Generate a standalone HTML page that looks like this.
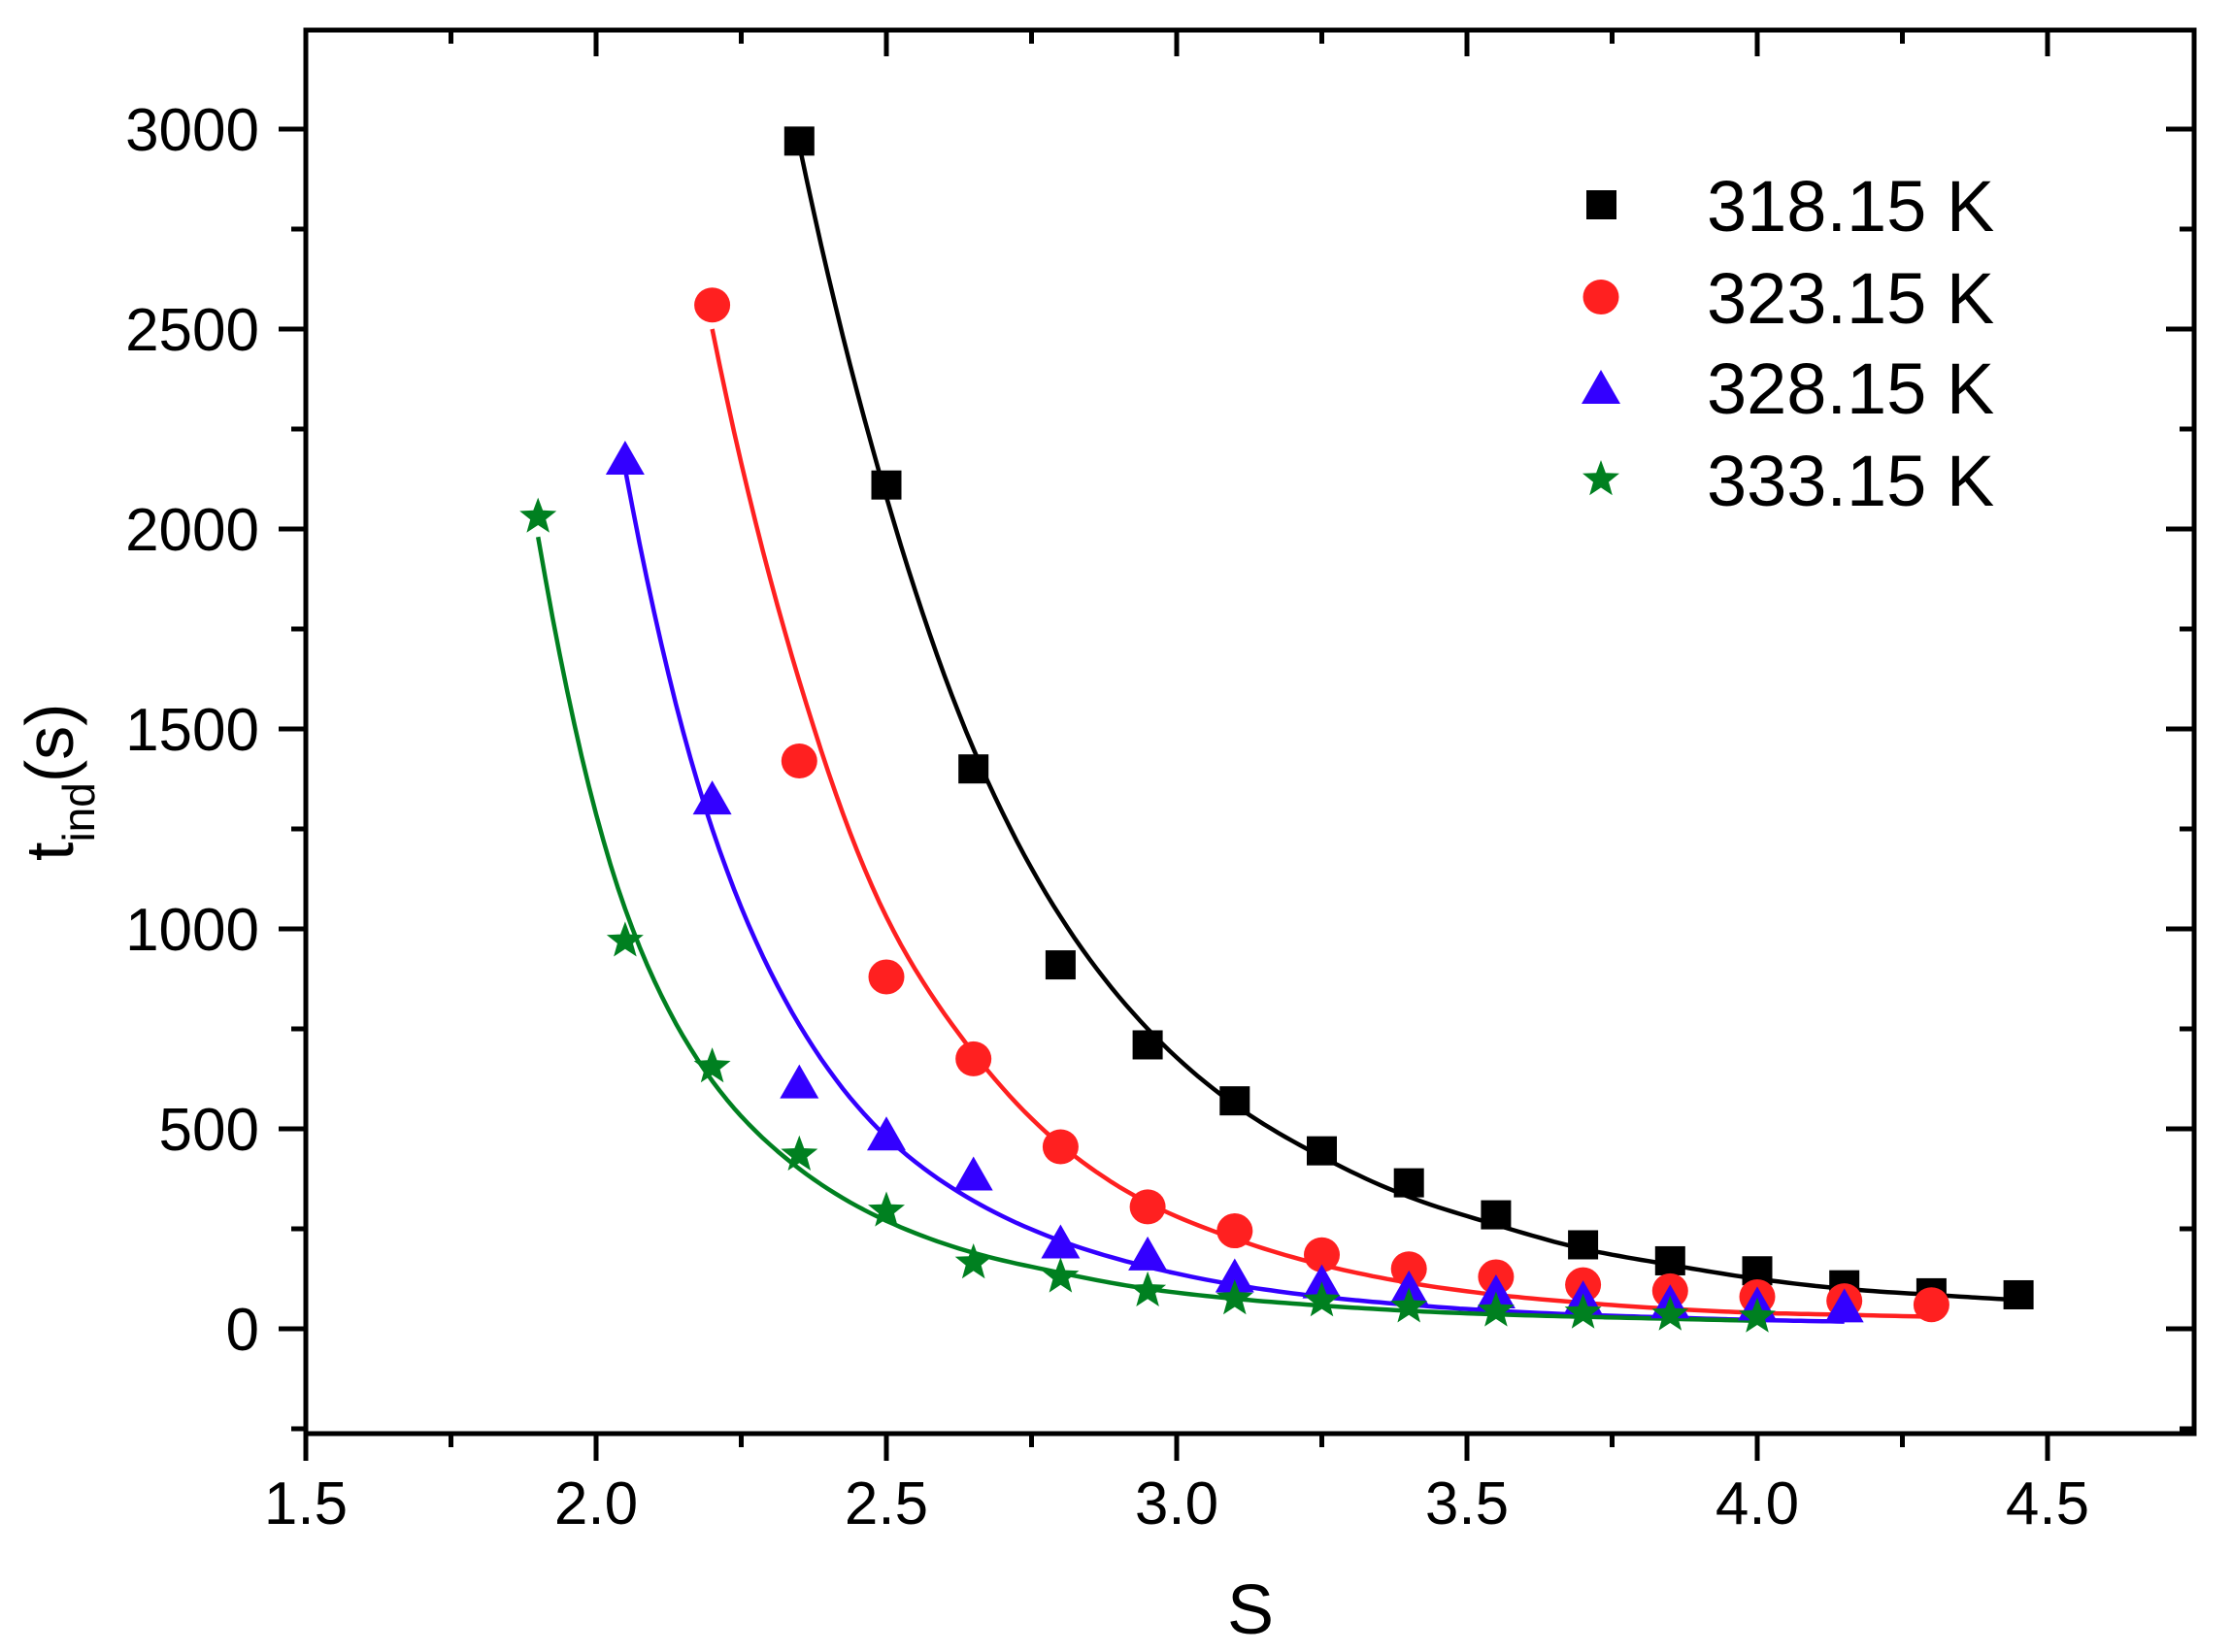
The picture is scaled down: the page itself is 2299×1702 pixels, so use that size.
<!DOCTYPE html>
<html><head><meta charset="utf-8"><style>
html,body{margin:0;padding:0;background:#fff;}
svg{display:block;}
text{font-family:"Liberation Sans",Arial,sans-serif;fill:#000;}
</style></head><body>
<svg id="s" width="2299" height="1702" viewBox="0 0 2299 1702" xmlns="http://www.w3.org/2000/svg">
<rect width="2299" height="1702" fill="#fff"/>
<g id="curves"></g>
<g id="marks"></g>
<g id="axes"></g>
<text x="1288" y="1683" font-size="72" text-anchor="middle">S</text>
<text transform="translate(75,887) rotate(-90)" font-size="70">t<tspan font-size="46" dy="22">ind</tspan><tspan dy="-22">(s)</tspan></text>
<g id="legend" font-size="74">
<rect x="1634" y="196" width="31" height="30" fill="#000"/>
<text x="1758" y="238">318.15 K</text>
<ellipse cx="1649" cy="306" rx="18.5" ry="18" fill="#ff2020"/>
<text x="1758" y="333">323.15 K</text>
<polygon points="1629,416 1669,416 1649,381" fill="#3300ff"/>
<text x="1758" y="426">328.15 K</text>
<text x="1758" y="521">333.15 K</text>
</g>
</svg>
<script>
var NS="http://www.w3.org/2000/svg";
function px(x){return 315+(x-1.5)*598;}
function py(v){return 1369-v*0.412;}
function el(tag,attrs,parent){var e=document.createElementNS(NS,tag);for(var k in attrs)e.setAttribute(k,attrs[k]);parent.appendChild(e);return e;}
var axes=document.getElementById('axes'),curves=document.getElementById('curves'),marks=document.getElementById('marks'),legend=document.getElementById('legend');
var L=315,R=2260,T=31,B=1477;
el('rect',{x:L,y:T,width:R-L,height:B-T,fill:'none',stroke:'#000','stroke-width':5},axes);
for(var i=0;i<=12;i++){var xv=1.5+i*0.25;var X=px(xv);if(X>R-2)break;var maj=(i%2==0);
 el('line',{x1:X,y1:B,x2:X,y2:B+(maj?28:14),stroke:'#000','stroke-width':5},axes);
 el('line',{x1:X,y1:T,x2:X,y2:T+(maj?27:14),stroke:'#000','stroke-width':5},axes);
 if(maj){var t=el('text',{x:X,y:1570,'font-size':62,'text-anchor':'middle'},axes);t.textContent=xv.toFixed(1);}
}
for(var v=-250;v<=3250;v+=250){var Y=py(v);if(Y>B-2||Y<T+2)continue;var maj=(v%500==0);
 el('line',{x1:L,y1:Y,x2:L-(maj?28:15),y2:Y,stroke:'#000','stroke-width':5},axes);
 el('line',{x1:R,y1:Y,x2:R-(maj?29:15),y2:Y,stroke:'#000','stroke-width':5},axes);
 if(maj){var t=el('text',{x:267,y:Y+22,'font-size':62,'text-anchor':'end'},axes);t.textContent=v;}
}
var series=[
 {c:'#000',m:'sq',d:[[2.35,2970],[2.5,2110],[2.65,1400],[2.8,910],[2.95,710],[3.1,570],[3.25,445],[3.4,365],[3.55,285],[3.7,210],[3.85,170],[4.0,145],[4.15,110],[4.3,90],[4.45,85]],
  f:[[2.35,2960],[2.5,2080],[2.65,1450],[2.8,1030],[2.95,750],[3.1,560],[3.25,430],[3.4,330],[3.55,260],[3.7,200],[3.85,160],[4.0,125],[4.15,100],[4.3,85],[4.45,72]]},
 {c:'#ff2020',m:'ci',d:[[2.2,2560],[2.35,1420],[2.5,880],[2.65,675],[2.8,455],[2.95,305],[3.1,245],[3.25,185],[3.4,150],[3.55,130],[3.7,110],[3.85,95],[4.0,80],[4.15,70],[4.3,60]],
  f:[[2.2,2500],[2.35,1620],[2.5,1030],[2.65,690],[2.8,460],[2.95,315],[3.1,225],[3.25,160],[3.4,115],[3.55,85],[3.7,65],[3.85,50],[4.0,40],[4.15,35],[4.3,30]]},
 {c:'#3300ff',m:'tr',d:[[2.05,2170],[2.2,1320],[2.35,610],[2.5,480],[2.65,380],[2.8,210],[2.95,180],[3.1,125],[3.25,110],[3.4,95],[3.55,85],[3.7,70],[3.85,60],[4.0,55],[4.15,50]],
  f:[[2.05,2150],[2.2,1250],[2.35,760],[2.5,480],[2.65,320],[2.8,220],[2.95,155],[3.1,110],[3.25,80],[3.4,60],[3.55,45],[3.7,35],[3.85,28],[4.0,22],[4.15,18]]},
 {c:'#008020',m:'st',d:[[1.9,2030],[2.05,970],[2.2,655],[2.35,435],[2.5,295],[2.65,165],[2.8,130],[2.95,95],[3.1,75],[3.25,70],[3.4,55],[3.55,45],[3.7,40],[3.85,35],[4.0,30]],
  f:[[1.9,1980],[2.05,1050],[2.2,620],[2.35,400],[2.5,270],[2.65,190],[2.8,140],[2.95,100],[3.1,75],[3.25,58],[3.4,45],[3.55,36],[3.7,30],[3.85,25],[4.0,20]]}
];
function star(cx,cy,r){var p=[];for(var k=0;k<10;k++){var a=-Math.PI/2+k*Math.PI/5;var rr=(k%2==0)?r:r*0.42;p.push((cx+rr*Math.cos(a)).toFixed(1)+','+(cy+rr*Math.sin(a)).toFixed(1));}return p.join(' ');}
function marker(m,c,X,Y,g){
 if(m=='sq')el('rect',{x:X-15.5,y:Y-15,width:31,height:30,fill:c},g);
 else if(m=='ci')el('ellipse',{cx:X,cy:Y,rx:18.5,ry:18,fill:c},g);
 else if(m=='tr')el('polygon',{points:(X-20)+','+(Y+14)+' '+(X+20)+','+(Y+14)+' '+X+','+(Y-21),fill:c},g);
 else el('polygon',{points:star(X,Y,20),fill:c},g);
}
series.forEach(function(s){
 var F=s.f.map(function(p){return [p[0],Math.log(p[1])];});
 var n=F.length,pts=[];
 for(var i=0;i<n-1;i++){
  var y0=i>0?F[i-1][1]:2*F[0][1]-F[1][1],y1=F[i][1],y2=F[i+1][1],y3=i+2<n?F[i+2][1]:2*F[n-1][1]-F[n-2][1];
  for(var k=0;k<12;k++){var t=k/12,t2=t*t,t3=t2*t;
   var y=0.5*((2*y1)+(-y0+y2)*t+(2*y0-5*y1+4*y2-y3)*t2+(-y0+3*y1-3*y2+y3)*t3);
   var x=F[i][0]+(F[i+1][0]-F[i][0])*t;
   pts.push(px(x).toFixed(1)+','+py(Math.exp(y)).toFixed(1));}
 }
 pts.push(px(F[n-1][0]).toFixed(1)+','+py(Math.exp(F[n-1][1])).toFixed(1));
 el('polyline',{points:pts.join(' '),fill:'none',stroke:s.c,'stroke-width':4.5,'stroke-linejoin':'round'},curves);
});
series.forEach(function(s){s.d.forEach(function(p){marker(s.m,s.c,px(p[0]),py(p[1]),marks);});});
el('polygon',{points:star(1649,494,20),fill:'#008020'},legend);
</script>
</body></html>
